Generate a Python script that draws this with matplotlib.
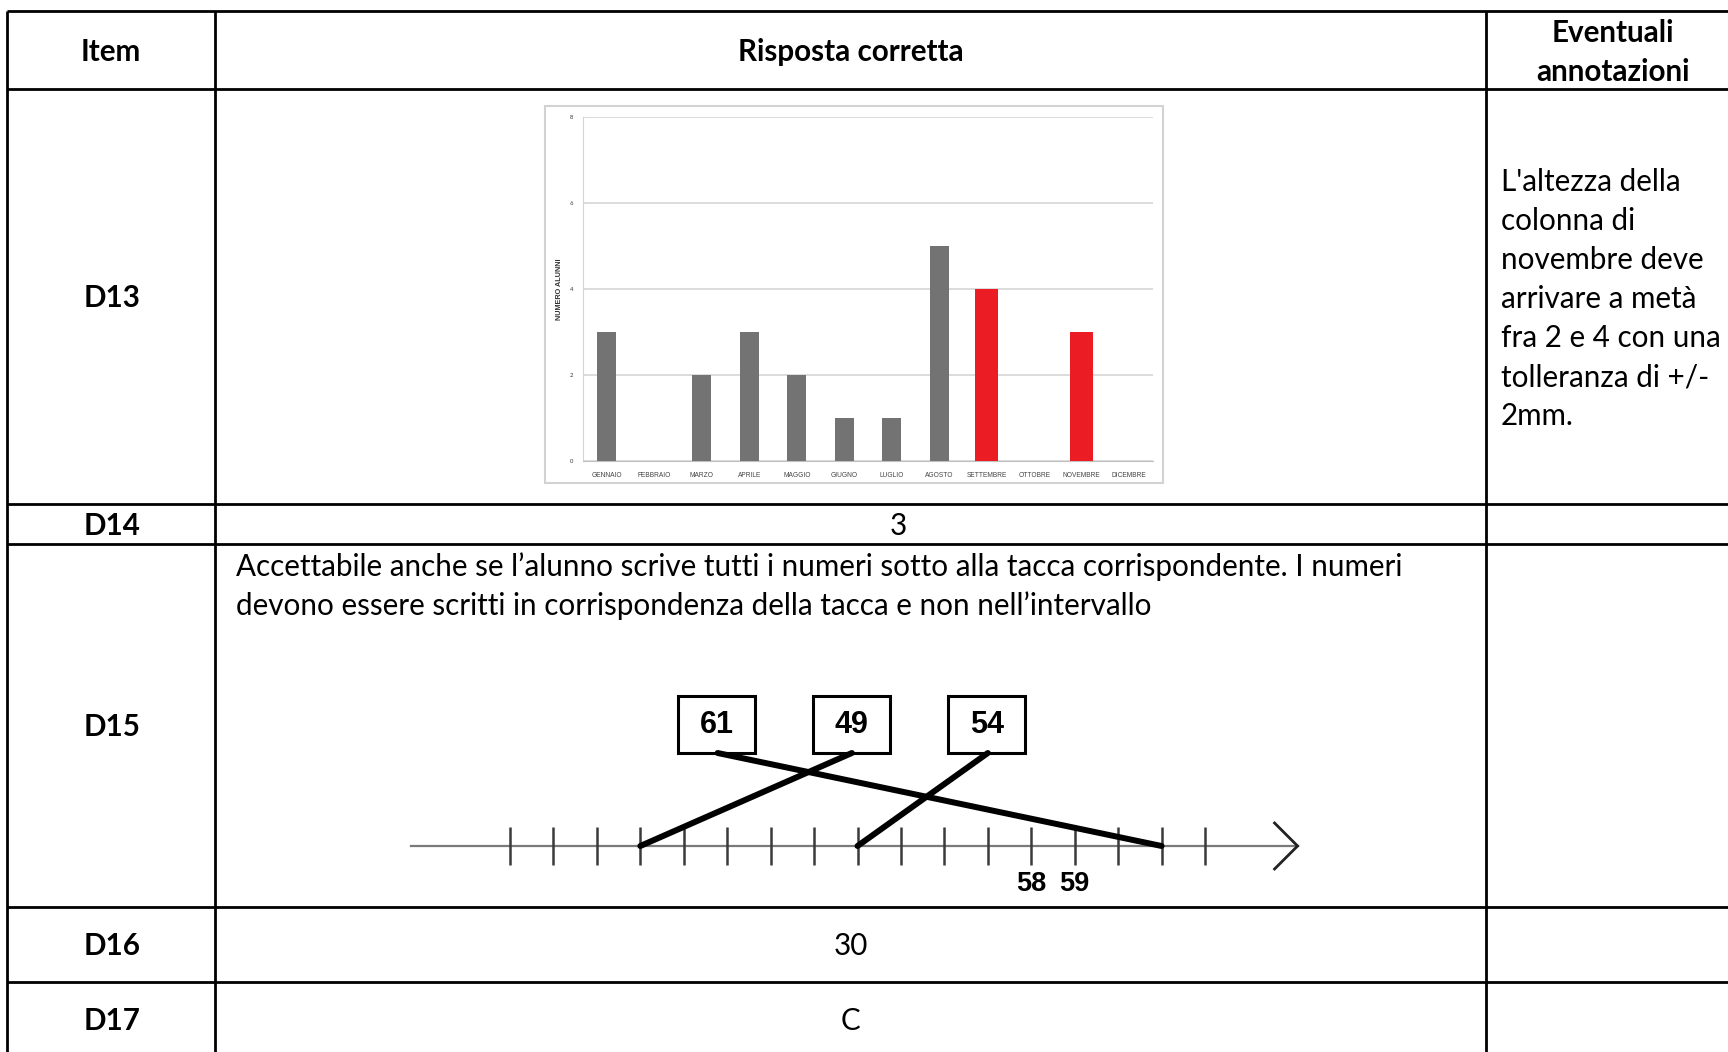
import matplotlib.pyplot as plt
from matplotlib.patches import Rectangle

plt.rcParams['font.family'] = ['Lato', 'DejaVu Sans']

# --- data ---
months = ['GENNAIO', 'FEBBRAIO', 'MARZO', 'APRILE', 'MAGGIO', 'GIUGNO',
          'LUGLIO', 'AGOSTO', 'SETTEMBRE', 'OTTOBRE', 'NOVEMBRE', 'DICEMBRE']
alunni = [3, 0, 2, 3, 2, 1, 1, 5, 4, 0, 3, 0]
highlight = ['SETTEMBRE', 'NOVEMBRE']
y_ticks = [0, 2, 4, 6, 8]

header = ['Item', 'Risposta corretta', 'Eventuali\nannotazioni']
items = ['D13', 'D14', 'D15', 'D16', 'D17']
answers = {'D14': '3', 'D16': '30', 'D17': 'C'}
d15_text = ['Accettabile anche se l\u2019alunno scrive tutti i numeri sotto alla tacca corrispondente. I numeri',
            'devono essere scritti in corrispondenza della tacca e non nell\u2019intervallo']
d13_note = ["L'altezza della", 'colonna di', 'novembre deve', 'arrivare a met\u00e0',
            'fra 2 e 4 con una', 'tolleranza di +/-', '2mm.']

tick_values = list(range(46, 63))
tick_labels = [58, 59]
box_values = [61, 49, 54]

# --- figure in pixel units ---
W, H = 1728, 1052
fig = plt.figure(figsize=(W / 100, H / 100), dpi=100)


def px_axes(x0, y0, x1, y1):
    return fig.add_axes([x0 / W, 1 - y1 / H, (x1 - x0) / W, (y1 - y0) / H])


base = px_axes(0, 0, W, H)
base.set_xlim(0, W)
base.set_ylim(H, 0)
base.axis('off')

# table grid
col_edges = [7, 215, 1486]
row_edges = [11, 89, 504, 544, 907, 982]
for y in row_edges:
    base.plot([col_edges[0], W], [y, y], color='black', lw=2, solid_capstyle='butt')
for x in col_edges:
    base.plot([x, x], [row_edges[0], H], color='black', lw=2, solid_capstyle='butt')

fs = 21.3
c0 = (col_edges[0] + col_edges[1]) / 2
c1 = (col_edges[1] + col_edges[2]) / 2
c2 = (col_edges[2] + W) / 2
row_y = [298, 526, 727, 946, 1021]
base.text(c0, 52, header[0], ha='center', va='center', fontsize=fs, fontweight='bold')
base.text(c1, 52, header[1], ha='center', va='center', fontsize=fs, fontweight='bold')
base.text(c2 + 6, 33, header[2].split('\n')[0], ha='center', va='center', fontsize=fs,
          fontweight='bold')
base.text(c2 + 6, 72, header[2].split('\n')[1], ha='center', va='center', fontsize=fs,
          fontweight='bold')

for it, yc in zip(items, row_y):
    base.text(c0 + 1, yc, it, ha='center', va='center', fontsize=fs, fontweight='bold')
    if it in answers:
        xoff = 48 if it == 'D14' else 0
        base.text(c1 + xoff, yc, answers[it], ha='center', va='center', fontsize=fs)

for k, line in enumerate(d15_text):
    base.text(236, 567 + 39 * k, line, ha='left', va='center', fontsize=fs)
for k, line in enumerate(d13_note):
    base.text(1501, 182 + 39 * k, line, ha='left', va='center', fontsize=fs)

# --- embedded bar chart ---
base.add_patch(Rectangle((545, 106), 618, 377, fill=False, ec='#d2d2d2', lw=1.5))
ax = px_axes(583, 117, 1153, 461)
x = range(len(months))
colors = ['#ec1c24' if m in highlight else '#737373' for m in months]
widths = [0.48 if m in highlight else 0.4 for m in months]
ax.bar(x, alunni, width=widths, color=colors, zorder=3)
ax.set_xlim(-0.5, len(months) - 0.5)
ax.set_ylim(0, 8)
ax.set_yticks(y_ticks)
ax.set_xticks(list(x))
ax.set_xticklabels(months, family='Liberation Sans')
ax.tick_params(axis='y', length=0, labelsize=4.2, pad=7, labelcolor='#333333')
ax.tick_params(axis='x', length=0, labelsize=4.8, pad=8, labelcolor='#444444')
ax.grid(axis='y', color='#d9d9d9', lw=1.3, zorder=0)
for s in ['top', 'right']:
    ax.spines[s].set_visible(False)
ax.spines['left'].set_color('#d4d4d4')
ax.spines['bottom'].set_color('#c0c0c0')
ax.set_ylabel('NUMERO ALUNNI', fontsize=5.2, fontweight='bold', family='Liberation Sans',
              color='#333333')
ax.yaxis.set_label_coords(-20 / 570, 0.5)

# --- number line ---
nl = px_axes(400, 600, 1310, 900)
nl.set_xlim(43.468, 64.416)
nl.set_ylim(900, 600)
nl.axis('off')
nl.plot([43.72, 64.13], [846, 846], color='#7a7a7a', lw=1.6, zorder=1)
nl.plot([64.13 - 0.53, 64.13, 64.13 - 0.53], [823, 846, 869], color='#222222', lw=2,
        solid_joinstyle='miter', zorder=1)
nl.vlines(tick_values, 827, 865, color='#3a3a3a', lw=1.8, zorder=2)
for v in tick_labels:
    nl.text(v, 884, str(v), ha='center', va='center', fontsize=19.5, fontweight='bold',
            family='Liberation Sans')

box_x = [50.76, 53.85, 56.98]
bw = 77 / 43.44
for bx, v in zip(box_x, box_values):
    nl.add_patch(Rectangle((bx - bw / 2, 696), bw, 57, fill=False, ec='black', lw=2.2, zorder=3))
    nl.text(bx, 725, str(v), ha='center', va='center', fontsize=22, fontweight='bold',
            family='Liberation Sans', zorder=4)
    nl.plot([bx + 0.02, v], [753, 846], color='black', lw=4.3, solid_capstyle='round', zorder=4)

fig.savefig('out.png', dpi=100)
